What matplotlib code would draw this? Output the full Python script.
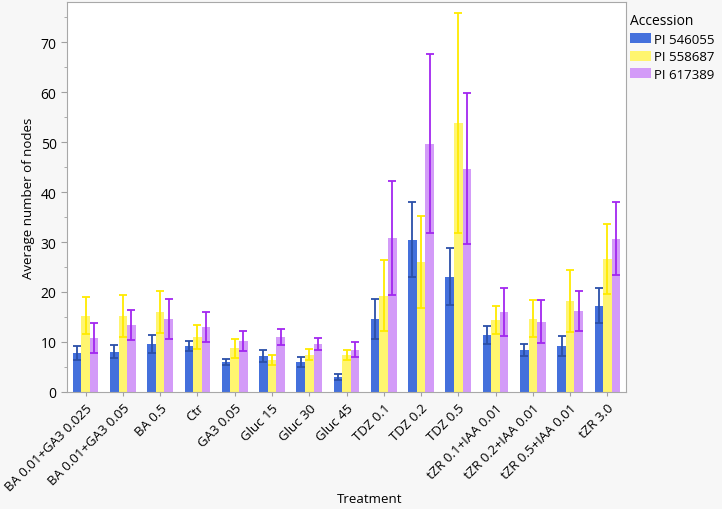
import numpy as np
import matplotlib.pyplot as plt

plt.rcParams['font.family'] = ['Open Sans', 'DejaVu Sans']

treatments = ['BA 0.01+GA3 0.025', 'BA 0.01+GA3 0.05', 'BA 0.5', 'Ctr', 'GA3 0.05',
              'Gluc 15', 'Gluc 30', 'Gluc 45', 'TDZ 0.1', 'TDZ 0.2', 'TDZ 0.5',
              'tZR 0.1+IAA 0.01', 'tZR 0.2+IAA 0.01', 'tZR 0.5+IAA 0.01', 'tZR 3.0']
accessions = ['PI 546055', 'PI 558687', 'PI 617389']

# mean number of nodes per accession
pi546055 = [7.8, 8.1, 9.6, 9.3, 6.1, 7.3, 6.1, 3.1, 14.7, 30.5, 23.1, 11.5, 8.4, 9.3, 17.3]
pi558687 = [15.3, 15.2, 16.0, 11.1, 8.8, 6.4, 7.5, 7.5, 19.3, 26.0, 53.9, 14.4, 14.7, 18.3, 26.7]
pi617389 = [10.9, 13.5, 14.7, 13.1, 10.3, 11.1, 9.7, 8.5, 30.9, 49.7, 44.7, 16.1, 14.1, 16.3, 30.7]

# error bar half-widths
err546055 = [1.4, 1.3, 1.8, 1.0, 0.6, 1.2, 1.0, 0.6, 4.0, 7.5, 5.7, 1.8, 1.2, 2.0, 3.5]
err558687 = [3.7, 4.2, 4.2, 2.4, 1.9, 1.0, 1.1, 1.0, 7.1, 9.2, 22.0, 2.8, 3.7, 6.2, 7.0]
err617389 = [3.0, 3.0, 4.0, 3.0, 2.0, 1.6, 1.2, 1.5, 11.4, 17.9, 15.1, 4.8, 4.3, 4.0, 7.3]

means = [pi546055, pi558687, pi617389]
errs = [err546055, err558687, err617389]
bar_colors = ['#4470DC', '#FFF56F', '#D39BF8']
err_colors = ['#2B4FA8', '#FFEA00', '#A226F0']

fig = plt.figure(figsize=(7.22, 5.10), dpi=100, facecolor='#F7F7F7')
ax = fig.add_axes([67 / 722, 1 - 393 / 510, 559 / 722, 390 / 510])
ax.set_facecolor('white')

x = np.arange(len(treatments))
w = 0.23
for i in range(3):
    ax.bar(x + (i - 1) * w, means[i], w, color=bar_colors[i], label=accessions[i],
           linewidth=0, zorder=2)
    ax.errorbar(x + (i - 1) * w, means[i], yerr=errs[i], fmt='none', ecolor=err_colors[i],
                elinewidth=1.3, capsize=3, capthick=1.3, zorder=3)

ax.set_xlim(-0.5, len(treatments) - 0.5)
ax.set_ylim(0, 78)
ax.set_yticks(range(0, 80, 10))
ax.set_yticks(range(5, 80, 10), minor=True)
ax.set_xticks(x)
ax.set_xticklabels(treatments, rotation=45, ha='right', rotation_mode='anchor', fontsize=9.5)
ax.tick_params(axis='y', labelsize=10, color='#A0A0A0', length=4)
ax.tick_params(axis='y', which='minor', color='#A0A0A0', length=2.5)
ax.tick_params(axis='x', color='#A0A0A0', length=3)
for s in ax.spines.values():
    s.set_color('#A8A8A8')

ax.set_ylabel('Average number of nodes', fontsize=9.5)
fig.text(370 / 722, 1 - 500 / 510, 'Treatment', ha='center', va='center', fontsize=9.5)

leg = fig.legend(title='Accession', loc='upper left', bbox_to_anchor=(630 / 722, 1 - 14 / 510),
                 frameon=False, fontsize=9.5, title_fontsize=10, handlelength=1.6,
                 handleheight=0.8, handletextpad=0.2, labelspacing=0.35,
                 borderaxespad=0, borderpad=0)
leg._legend_box.align = 'left'

fig.savefig('out.png', dpi=100, facecolor=fig.get_facecolor())
